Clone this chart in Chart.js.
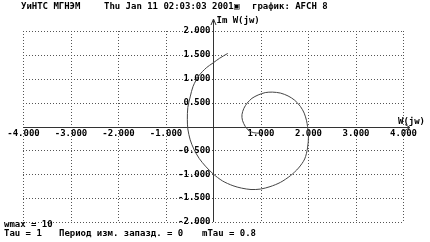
<!DOCTYPE html>
<html>
<head>
<meta charset="utf-8">
<script src="https://cdn.jsdelivr.net/npm/chart.js@4.4.0/dist/chart.umd.min.js"></script>
<style>
  html, body { margin: 0; padding: 0; background: #fff; }
  canvas { display: block; }
</style>
</head>
<body>
<canvas id="afch" width="430" height="242"></canvas>
<script>
const reW = [0.98, 0.86, 0.76, 0.68, 0.62, 0.61, 0.65, 0.72, 0.82, 0.95, 1.10, 1.25, 1.42, 1.58, 1.72, 1.84,
             1.92, 1.97, 1.99, 2.01, 1.99, 1.93, 1.80, 1.63, 1.42, 1.20, 1.00, 0.80, 0.60, 0.42, 0.20, 0.00,
             -0.16, -0.29, -0.40, -0.48, -0.53, -0.54, -0.53, -0.48, -0.42, -0.30, -0.14, 0.00, 0.14, 0.31];
const imW = [-0.14, -0.13, -0.09, 0.00, 0.13, 0.25, 0.38, 0.49, 0.59, 0.66, 0.71, 0.72, 0.70, 0.64, 0.55, 0.42,
             0.28, 0.12, 0.00, -0.20, -0.45, -0.68, -0.87, -1.03, -1.17, -1.26, -1.31, -1.32, -1.29, -1.24, -1.14, -0.99,
             -0.83, -0.67, -0.48, -0.28, -0.05, 0.15, 0.40, 0.62, 0.84, 1.06, 1.23, 1.33, 1.43, 1.53];

const xGrid = [-4, -3, -2, -1, 0, 1, 2, 3, 4];
const yGrid = [2, 1.5, 1, 0.5, 0, -0.5, -1, -1.5, -2];
const xTickLabels = [-4, -3, -2, -1, 1, 2, 3, 4];
const yTickLabels = [2, 1.5, 1, 0.5, -0.5, -1, -1.5, -2];

const headOrg = 'УиНТС МГНЭМ';
const headDate = 'Thu Jan 11 02:03:03 2001';
const headMark = '▣';
const headGraph = 'график: AFCH 8';
const axisImLabel = 'Im W(jw)';
const axisReLabel = 'W(jw)';
const footWmax = 'wmax = 10';
const footTau = 'Tau = 1';
const footPeriod = 'Период изм. запазд. = 0';
const footMTau = 'mTau = 0.8';

const CH = 5.4; // DOS-like fixed character cell

function drawMono(ctx, text, x, y) {
  for (let i = 0; i < text.length; i++) {
    ctx.fillText(text[i], x + i * CH, y);
  }
}

const dosScreen = {
  id: 'dosScreen',
  beforeDatasetsDraw(chart) {
    const { ctx, chartArea: a, scales: { x, y } } = chart;
    ctx.save();
    ctx.lineWidth = 1;

    // dotted grid
    ctx.strokeStyle = '#555';
    ctx.setLineDash([1, 2]);
    xGrid.forEach(v => {
      const px = Math.round(x.getPixelForValue(v)) + 0.5;
      ctx.beginPath(); ctx.moveTo(px, a.top); ctx.lineTo(px, a.bottom); ctx.stroke();
    });
    yGrid.forEach(v => {
      const py = Math.round(y.getPixelForValue(v)) + 0.5;
      ctx.beginPath(); ctx.moveTo(a.left, py); ctx.lineTo(a.right, py); ctx.stroke();
    });
    ctx.setLineDash([]);

    // solid axes with arrows
    const x0 = Math.round(x.getPixelForValue(0)) + 0.5;
    const y0 = Math.round(y.getPixelForValue(0)) + 0.5;
    ctx.strokeStyle = '#333';
    ctx.beginPath();
    ctx.moveTo(a.left, y0); ctx.lineTo(a.right + 7, y0);
    ctx.moveTo(a.right + 2, y0 - 3); ctx.lineTo(a.right + 7, y0); ctx.lineTo(a.right + 2, y0 + 3);
    ctx.moveTo(x0, a.bottom); ctx.lineTo(x0, a.top - 12);
    ctx.moveTo(x0 - 2.5, a.top - 6); ctx.lineTo(x0, a.top - 12); ctx.lineTo(x0 + 2.5, a.top - 6);
    ctx.stroke();

    // tick labels
    ctx.fillStyle = '#000';
    ctx.font = 'bold 9px "DejaVu Sans Mono"';
    ctx.textAlign = 'left';
    ctx.textBaseline = 'middle';
    xTickLabels.forEach(v => {
      const s = v.toFixed(3);
      drawMono(ctx, s, x.getPixelForValue(v) - s.length * CH / 2 + 0.5, y0 + 6);
    });
    yTickLabels.forEach(v => {
      const s = v.toFixed(3);
      drawMono(ctx, s, x0 - 3 - s.length * CH, y.getPixelForValue(v));
    });

    // axis captions
    drawMono(ctx, axisImLabel, x0 + 3, a.top - 10);
    drawMono(ctx, axisReLabel, a.right - 5, y0 - 6);
    ctx.restore();
  },
  afterDraw(chart) {
    const { ctx } = chart;
    ctx.save();
    ctx.fillStyle = '#000';
    ctx.font = 'bold 9px "DejaVu Sans Mono"';
    ctx.textAlign = 'left';
    ctx.textBaseline = 'middle';
    drawMono(ctx, headOrg, 21, 7);
    drawMono(ctx, headDate, 104, 7);
    drawMono(ctx, headMark, 234, 7);
    drawMono(ctx, headGraph, 252, 7);
    drawMono(ctx, footWmax, 4, 225);
    drawMono(ctx, footTau, 4, 234);
    drawMono(ctx, footPeriod, 59, 234);
    drawMono(ctx, footMTau, 202, 234);
    ctx.restore();
  }
};

new Chart(document.getElementById('afch').getContext('2d'), {
  type: 'scatter',
  data: {
    datasets: [{
      data: reW.map((v, i) => ({ x: v, y: imW[i] })),
      showLine: true,
      borderColor: '#444',
      borderWidth: 1,
      pointRadius: 0,
      tension: 0.3,
      fill: false
    }]
  },
  options: {
    responsive: false,
    animation: false,
    devicePixelRatio: 1,
    layout: { padding: { left: 23, right: 27, top: 31, bottom: 20 } },
    plugins: { legend: { display: false }, tooltip: { enabled: false } },
    scales: {
      x: { type: 'linear', min: -4, max: 4, display: false },
      y: { type: 'linear', min: -2, max: 2, display: false }
    }
  },
  plugins: [dosScreen]
});
</script>
</body>
</html>
